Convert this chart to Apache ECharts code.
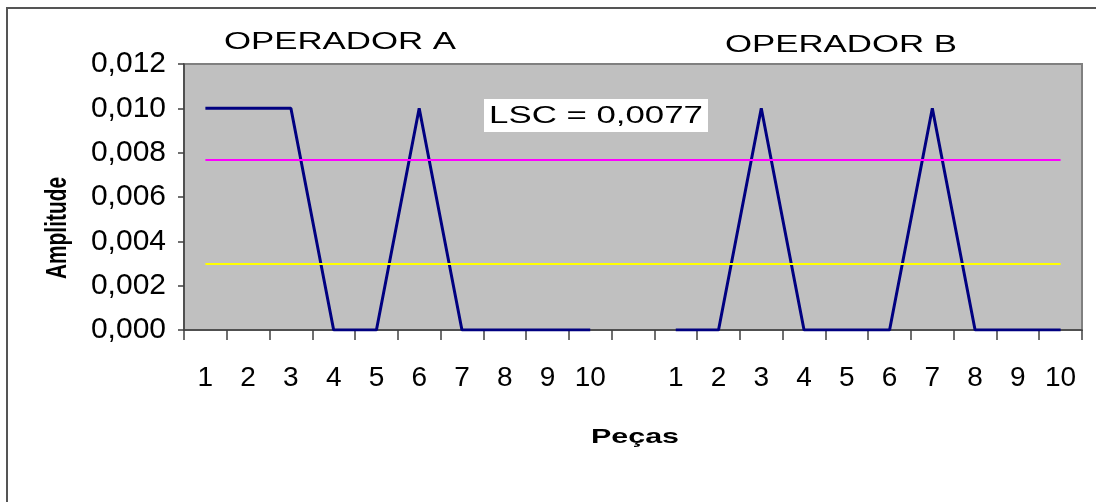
<!DOCTYPE html>
<html><head><meta charset="utf-8">
<script src="https://cdn.jsdelivr.net/npm/echarts@6/dist/echarts.min.js"></script>
<style>html,body{margin:0;padding:0;background:#fff}#c{width:1096px;height:502px}</style>
</head><body><div id="c"></div>
<script>
const categories = ['1','2','3','4','5','6','7','8','9','10','','1','2','3','4','5','6','7','8','9','10'];
const operadorA = [0.010,0.010,0.010,0,0,0.010,0,0,0,0];
const operadorB = [0,0,0.010,0,0,0,0.010,0,0,0];
const lsc = 0.0077;
const media = 0.0030;
const yTickLabels = ['0,000','0,002','0,004','0,006','0,008','0,010','0,012'];
const titles = ['OPERADOR A','OPERADOR B'];
const lscLabel = 'LSC = 0,0077';

const dataA = operadorA.concat(new Array(11).fill(null));
const dataB = new Array(11).fill(null).concat(operadorB);
const F = '"Liberation Sans", Arial, sans-serif';

const chart = echarts.init(document.getElementById('c'));
chart.setOption({
  animation:false,
  backgroundColor:'#ffffff',
  grid:{left:184,right:14,top:64,bottom:172,show:true,backgroundColor:'#c0c0c0',borderColor:'#808080',borderWidth:2},
  xAxis:{type:'category',data:categories,boundaryGap:true,
    axisLine:{lineStyle:{color:'#404040',width:1.5}},
    axisTick:{show:true,interval:0,length:10,lineStyle:{color:'#404040',width:1.5}},
    axisLabel:{interval:0,margin:34,color:'#000',fontFamily:F,fontSize:28},
    splitLine:{show:false}},
  yAxis:{type:'value',min:0,max:0.012,interval:0.002,
    axisLine:{show:true,lineStyle:{color:'#404040',width:1.5}},
    axisTick:{show:true,length:6,lineStyle:{color:'#404040',width:1.5}},
    axisLabel:{margin:18,color:'#000',fontFamily:F,fontSize:30,
      formatter:(v)=>yTickLabels[Math.round(v/0.002)]},
    splitLine:{show:false}},
  series:[
    {type:'line',data:dataA,symbol:'none',connectNulls:false,
      lineStyle:{color:'#000080',width:3},
      markLine:{silent:true,symbol:'none',label:{show:false},
        data:[
          [{coord:[0,lsc],lineStyle:{color:'#ff00ff',width:2,type:'solid'}},{coord:[20,lsc]}],
          [{coord:[0,media],lineStyle:{color:'#ffff00',width:2,type:'solid'}},{coord:[20,media]}]
        ]}},
    {type:'line',data:dataB,symbol:'none',connectNulls:false,
      lineStyle:{color:'#000080',width:3}}
  ],
  graphic:[
    {type:'rect',shape:{x:7,y:8,width:1100,height:510},style:{fill:'none',stroke:'#555555',lineWidth:2},silent:true},
    {type:'text',x:340,y:42,scaleX:1.45,style:{text:titles[0],font:'24px '+F,fill:'#000',align:'center',verticalAlign:'middle'}},
    {type:'text',x:841,y:45,scaleX:1.45,style:{text:titles[1],font:'24px '+F,fill:'#000',align:'center',verticalAlign:'middle'}},
    {type:'rect',shape:{x:484,y:99,width:224,height:33},style:{fill:'#ffffff'},z:10},
    {type:'text',x:596,y:116,scaleX:1.45,z:11,style:{text:lscLabel,font:'24px '+F,fill:'#000',align:'center',verticalAlign:'middle'}},
    {type:'text',x:635,y:437,scaleX:1.45,style:{text:'Peças',font:'bold 21px '+F,fill:'#000',align:'center',verticalAlign:'middle'}},
    {type:'text',x:58,y:228,rotation:Math.PI/2,scaleX:0.72,style:{text:'Amplitude',font:'bold 29px '+F,fill:'#000',align:'center',verticalAlign:'middle'}}
  ]
});
</script></body></html>
